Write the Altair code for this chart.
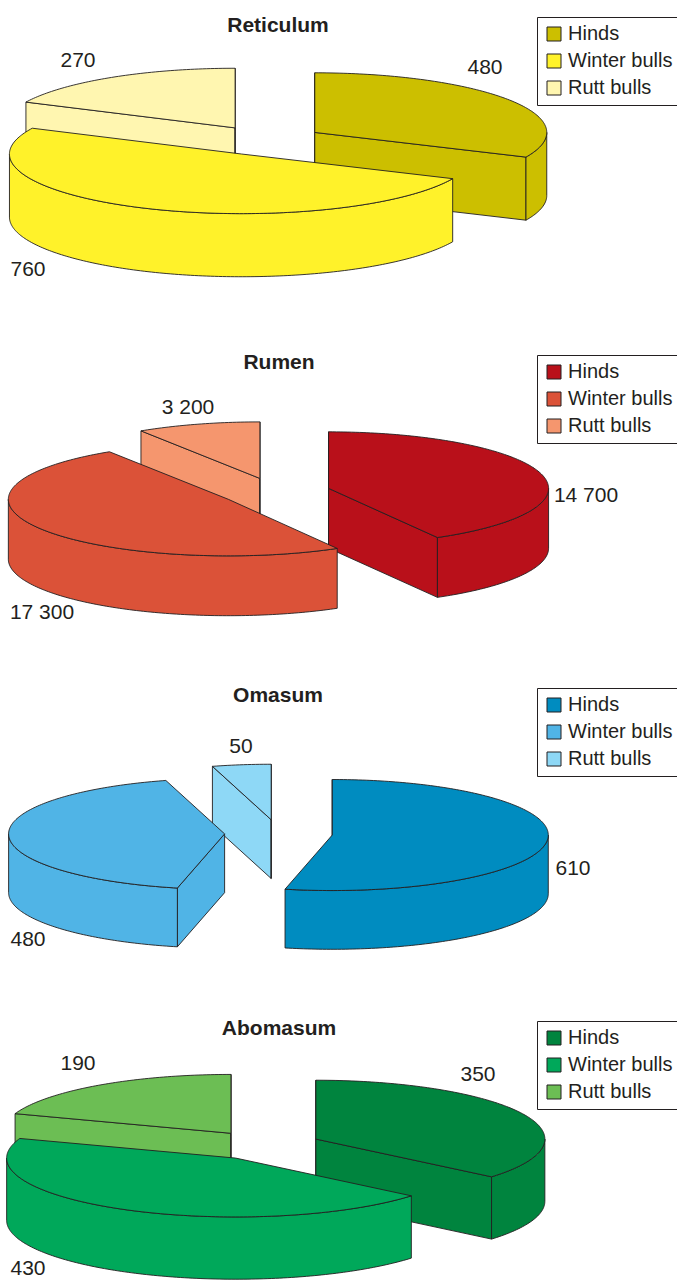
import math
import altair as alt
import pandas as pd

# ---------------- data ----------------
panels = ["Reticulum", "Rumen", "Omasum", "Abomasum"]
categories = ["Hinds", "Winter bulls", "Rutt bulls"]

reticulum_values = [480, 760, 270]
rumen_values = [14700, 17300, 3200]
omasum_values = [610, 480, 50]
abomasum_values = [350, 430, 190]

reticulum_labels = ["480", "760", "270"]
rumen_labels = ["14 700", "17 300", "3 200"]
omasum_labels = ["610", "480", "50"]
abomasum_labels = ["350", "430", "190"]

values = {
    "Reticulum": reticulum_values,
    "Rumen": rumen_values,
    "Omasum": omasum_values,
    "Abomasum": abomasum_values,
}
value_labels = {
    "Reticulum": reticulum_labels,
    "Rumen": rumen_labels,
    "Omasum": omasum_labels,
    "Abomasum": abomasum_labels,
}

# ---------------- styles ----------------
palettes = {
    "Reticulum": ["#CCBF00", "#FFF22A", "#FFF6B0"],
    "Rumen": ["#B9101A", "#DB5238", "#F5966E"],
    "Omasum": ["#008CC0", "#50B4E6", "#8ED8F6"],
    "Abomasum": ["#00843E", "#00A85A", "#6CBE54"],
}
INK = "#231f20"
FONT = "Liberation Sans"

# ---------------- layout (pixels) ----------------
W, H = 677, 1281
layout = {
    "Reticulum": dict(cx=266, cy=140.5, rx=232, title=(278, 26), legend=(537, 17),
                      labels=[(485, 68), (28, 270), (78, 61)]),
    "Rumen": dict(cx=275.4, cy=492, rx=220, title=(279, 363), legend=(537, 355),
                  labels=[(586, 496), (42, 613), (188, 408)]),
    "Omasum": dict(cx=278.6, cy=833.5, rx=216, title=(278, 696), legend=(537, 688),
                   labels=[(573, 869), (28, 940), (241, 747)]),
    "Abomasum": dict(cx=264, cy=1145.3, rx=229, title=(279, 1029), legend=(537, 1021),
                     labels=[(478, 1075), (28, 1269), (78, 1064)]),
}
TILT = 0.257      # ry / rx
DEPTH = 0.272     # side height / rx
EXPLODE = 0.25    # explode distance / rx


def pie_faces(vals, lay):
    """Polygons (top, radial sides, front wall) of an exploded 3-D pie, back to front."""
    total = float(sum(vals))
    cx, cy, rx = lay["cx"], lay["cy"], lay["rx"]
    ry, d, e = rx * TILT, rx * DEPTH, rx * EXPLODE
    slices = []
    acc = 0.0
    for cat, v in zip(categories, vals):
        s = acc / total * 360.0
        acc += v
        t = acc / total * 360.0
        m = math.radians((s + t) / 2)
        ax = cx + e * math.sin(m)
        ay = cy - e * TILT * math.cos(m)
        slices.append((cat, s, t, ax, ay))
    slices.sort(key=lambda z: z[4])

    rows = []
    counter = [0]

    def rim(ax, ay, deg, dz=0.0):
        r = math.radians(deg)
        return ax + rx * math.sin(r), ay - ry * math.cos(r) + dz

    def arc(ax, ay, a0, a1, dz=0.0):
        n = max(2, int(abs(a1 - a0) / 1.0) + 1)
        return [rim(ax, ay, a0 + (a1 - a0) * k / (n - 1), dz) for k in range(n)]

    def add(cat, pts):
        pts = pts + [pts[0]]
        for i, (x, y) in enumerate(pts):
            rows.append(dict(cat=cat, face=counter[0], i=i, x=x, y=y))
        counter[0] += 1

    for cat, s, t, ax, ay in slices:
        for ang, normal in ((s, s - 90), (t, t + 90)):
            if math.cos(math.radians(normal)) < 1e-6:
                px, py = rim(ax, ay, ang)
                add(cat, [(ax, ay), (px, py), (px, py + d), (ax, ay + d)])
        w0, w1 = max(s, 90.0), min(t, 270.0)
        if w1 > w0:
            add(cat, arc(ax, ay, w0, w1) + arc(ax, ay, w1, w0, d))
        add(cat, [(ax, ay)] + arc(ax, ay, s, t))
    return pd.DataFrame(rows)


X = alt.X("x:Q", scale=alt.Scale(domain=[0, W], nice=False, zero=False), axis=None)
Y = alt.Y("y:Q", scale=alt.Scale(domain=[0, H], nice=False, zero=False, reverse=True), axis=None)

panel_layers = []
for p in panels:
    lay = layout[p]
    faces = pie_faces(values[p], lay)
    legend = alt.Legend(
        title=None, orient="none", legendX=lay["legend"][0], legendY=lay["legend"][1],
        symbolType="square", symbolSize=196, symbolStrokeColor=INK, symbolStrokeWidth=1,
        labelFont=FONT, labelFontSize=20, labelColor=INK, labelOffset=4,
        padding=7, rowPadding=7, strokeColor=INK, fillColor="white",
    )
    face_layer = alt.Chart(faces).mark_line(
        filled=True, stroke=INK, strokeWidth=0.9, strokeJoin="round", opacity=1
    ).encode(
        x=X, y=Y,
        color=alt.Color("cat:N", scale=alt.Scale(domain=categories, range=palettes[p]), legend=legend),
        detail="face:N",
        order="i:Q",
    )
    lab_df = pd.DataFrame({
        "x": [xy[0] for xy in lay["labels"]],
        "y": [xy[1] for xy in lay["labels"]],
        "text": value_labels[p],
    })
    lab_layer = alt.Chart(lab_df).mark_text(
        font=FONT, fontSize=21, color=INK, align="center", baseline="middle"
    ).encode(x=X, y=Y, text="text:N")
    title_df = pd.DataFrame({"x": [lay["title"][0]], "y": [lay["title"][1]], "text": [p]})
    title_layer = alt.Chart(title_df).mark_text(
        font=FONT, fontSize=21, fontWeight="bold", color=INK, align="center", baseline="middle"
    ).encode(x=X, y=Y, text="text:N")
    panel_layers.append(alt.layer(face_layer, lab_layer, title_layer))

chart = alt.layer(*panel_layers).resolve_scale(color="independent").properties(
    width=W, height=H, autosize=alt.AutoSizeParams(type="none"), padding=0
).configure_view(strokeWidth=0)

chart.save("out.html", embed_options={"renderer": "svg", "actions": False})
